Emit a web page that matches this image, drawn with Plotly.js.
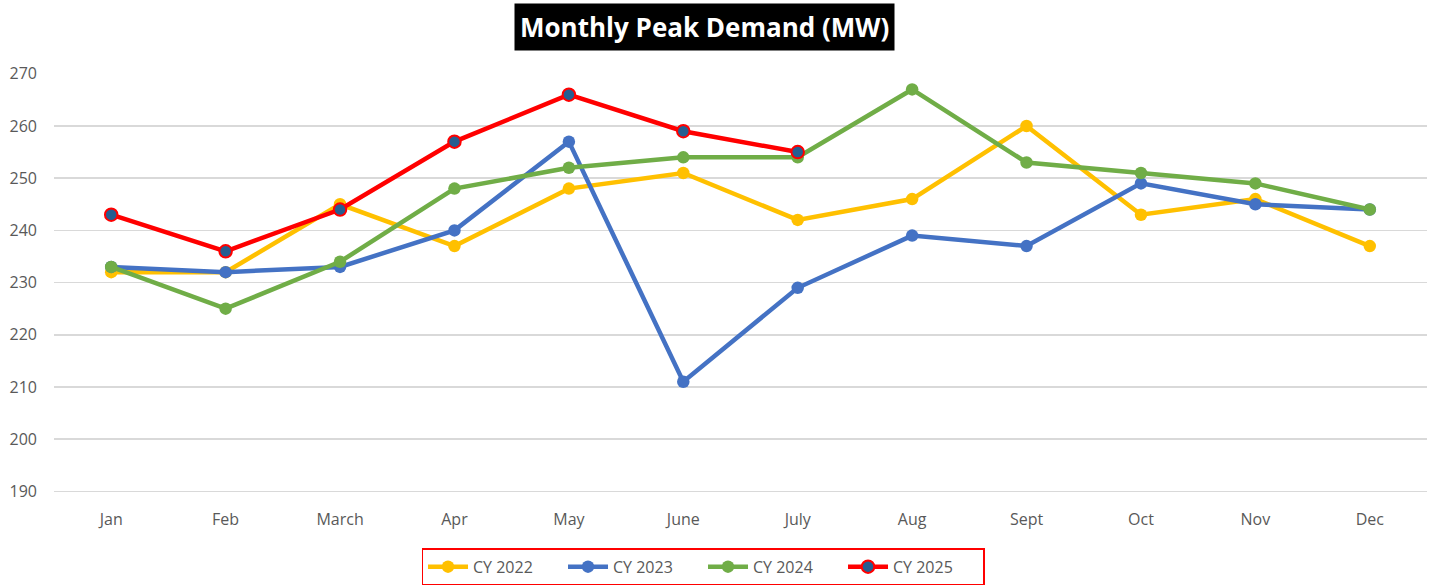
<!DOCTYPE html>
<html><head><meta charset="utf-8">
<script src="https://cdn.plot.ly/plotly-3.0.1.min.js"></script>
<style>html,body{margin:0;padding:0;background:#fff}#chart{width:1429px;height:587px}</style>
</head><body><div id="chart"></div>
<script>
var months = ["Jan","Feb","March","Apr","May","June","July","Aug","Sept","Oct","Nov","Dec"];
var cy2022 = [232,232,245,237,248,251,242,246,260,243,246,237];
var cy2023 = [233,232,233,240,257,211,229,239,237,249,245,244];
var cy2024 = [233,225,234,248,252,254,254,267,253,251,249,244];
var cy2025 = [243,236,244,257,266,259,255];
var seriesNames = ["CY 2022","CY 2023","CY 2024","CY 2025"];

function tr(name, y, color, markerFill, lineColor){
  return {
    x: months.slice(0, y.length), y: y, name: name, type: "scatter", mode: "lines+markers",
    line: {color: color, width: 4.5},
    marker: {size: 12.5, color: markerFill, line: {color: lineColor || markerFill, width: lineColor ? 2 : 0}}
  };
}
var data = [
  tr(seriesNames[0], cy2022, "#FFC000", "#FFC000", null),
  tr(seriesNames[1], cy2023, "#4472C4", "#4472C4", null),
  tr(seriesNames[2], cy2024, "#70AD47", "#70AD47", null),
  tr(seriesNames[3], cy2025, "#FF0000", "#255E91", "#FF0000")
];
var layout = {
  width: 1429, height: 587,
  margin: {l: 54, r: 2, t: 73, b: 93, autoexpand: false},
  paper_bgcolor: "#fff", plot_bgcolor: "#fff",
  font: {family: "Open Sans, Liberation Sans, sans-serif", color: "#595959", size: 16},
  showlegend: true,
  legend: {orientation: "h", x: 0.4727, xanchor: "center", yref: "container", y: 0.066, yanchor: "top",
    bordercolor: "#FF0000", borderwidth: 1.5, font: {size: 16, color: "#595959"},
    itemwidth: 40, entrywidth: 85, tracegroupgap: 0},
  xaxis: {type: "category", categoryorder: "array", categoryarray: months, range: [-0.5, 11.5],
    showgrid: false, zeroline: false, showline: false, ticks: "", fixedrange: true,
    ticklabelstandoff: 14, tickfont: {size: 16, color: "#595959"}},
  yaxis: {range: [189.5, 270.15], dtick: 10, tick0: 190, showgrid: true, gridcolor: "#D9D9D9", gridwidth: 1.5,
    zeroline: false, showline: false, ticks: "", ticklabelstandoff: 16,
    tickfont: {size: 16, color: "#595959"}},
  annotations: [{
    text: "<b>Monthly Peak Demand (MW)</b>", xref: "paper", yref: "paper", x: 0.474, y: 1.11,
    xanchor: "center", yanchor: "middle", showarrow: false,
    bgcolor: "#000000", font: {color: "#FFFFFF", size: 26, family: "Open Sans, Liberation Sans, sans-serif"},
    borderpad: 5
  }]
};
Plotly.newPlot("chart", data, layout, {displayModeBar: false, staticPlot: true});
</script></body></html>
